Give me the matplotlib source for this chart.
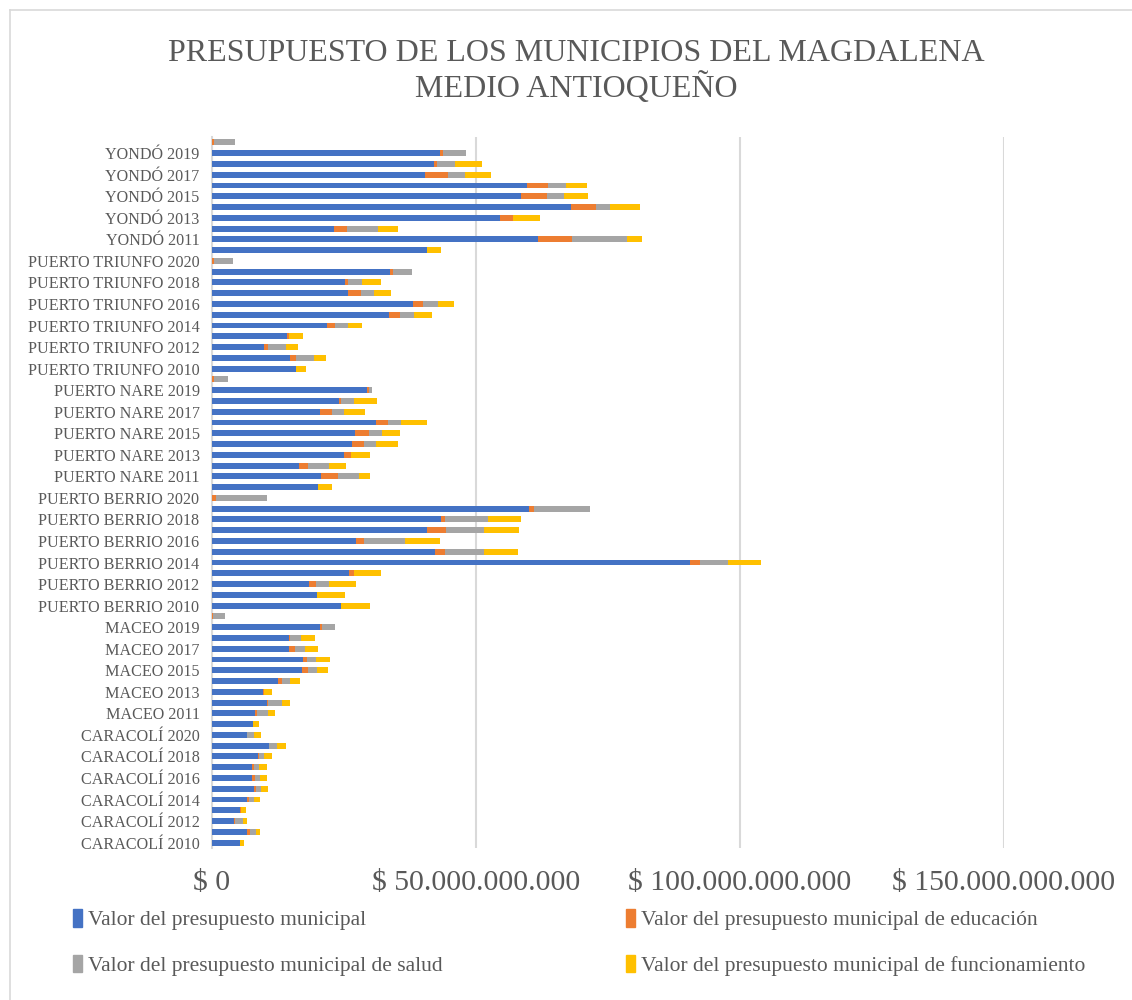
import matplotlib.pyplot as plt
from matplotlib.patches import Patch
from matplotlib.ticker import FuncFormatter, MultipleLocator

plt.rcParams['font.family'] = ['Liberation Serif', 'DejaVu Serif']

# categorias: municipio + año (de abajo hacia arriba)
municipios = ["CARACOLÍ", "MACEO", "PUERTO BERRIO", "PUERTO NARE", "PUERTO TRIUNFO", "YONDÓ"]
anios = list(range(2010, 2021))
categorias = [f"{m} {a}" for m in municipios for a in anios]

# valores en miles de millones de pesos, 2010..2020 por municipio
presupuesto = [
    5.25, 6.7, 4.1, 5.25, 6.57, 7.9, 7.65, 7.52, 8.66, 10.87, 6.57,       # caracoli
    7.7, 8.2, 10.37, 9.6, 12.5, 17.1, 17.2, 14.5, 14.5, 20.5, 0,          # maceo
    24.4, 19.8, 18.3, 26.0, 90.5, 42.2, 27.2, 40.8, 43.3, 60.1, 0,        # puerto berrio
    20.16, 20.6, 16.43, 24.97, 26.5, 27.0, 31.0, 20.4, 24.0, 29.33, 0,    # puerto nare
    15.87, 14.73, 9.92, 14.16, 21.74, 33.44, 38.05, 25.85, 25.1, 33.75, 0,  # puerto triunfo
    40.8, 61.8, 23.2, 54.6, 68.0, 58.5, 59.7, 40.3, 42.0, 43.2, 0,        # yondo
]
educacion = [
    0, 0.44, 0.25, 0.32, 0.38, 0.38, 0.44, 0.5, 0.19, 0, 0.1,
    0, 0.25, 0.25, 0.32, 0.7, 1.07, 0.76, 1.2, 0.32, 0.32, 0.25,
    0, 0, 1.4, 0.91, 1.97, 1.97, 1.54, 3.51, 0.91, 0.91, 0.8,
    0, 3.22, 1.71, 1.39, 2.34, 2.72, 2.28, 2.28, 0.5, 0.44, 0.38,
    0, 1.2, 0.63, 0.5, 1.52, 2.15, 1.9, 2.34, 0.57, 0.5, 0.44,
    0, 6.45, 2.28, 2.47, 4.68, 4.99, 3.92, 4.36, 0.57, 0.5, 0.44,
]
salud = [
    0, 1.14, 1.45, 0, 0.95, 1.01, 1.01, 0.95, 0.95, 1.39, 1.2,
    0, 2.15, 2.72, 0, 1.64, 1.77, 1.83, 1.83, 2.09, 2.47, 2.28,
    0, 0, 2.53, 0, 5.34, 7.3, 7.8, 7.16, 8.08, 10.67, 9.7,
    0, 3.98, 3.98, 0, 2.28, 2.47, 2.47, 2.4, 2.47, 0.44, 2.72,
    0, 3.35, 3.48, 0, 2.59, 2.65, 2.78, 2.47, 2.72, 3.54, 3.6,
    0, 10.37, 5.88, 0, 2.65, 3.16, 3.35, 3.22, 3.54, 4.4, 3.98,
]
funcionamiento = [
    0.82, 0.82, 0.88, 0.88, 1.2, 1.33, 1.33, 1.52, 1.58, 1.7, 1.45,
    1.26, 1.39, 1.45, 1.45, 1.77, 2.09, 2.47, 2.53, 2.65, 0, 0,
    5.55, 5.4, 5.06, 5.13, 6.18, 6.46, 6.67, 6.74, 6.18, 0, 0,
    2.53, 2.09, 3.35, 3.6, 4.05, 3.35, 5.06, 3.98, 4.36, 0, 0,
    2.02, 2.34, 2.21, 2.53, 2.59, 3.35, 3.16, 3.16, 3.54, 0, 0,
    2.53, 2.91, 3.79, 5.12, 5.75, 4.55, 4.05, 4.87, 5.1, 0, 0,
]

series = [
    ("Valor del presupuesto municipal", presupuesto, "#4472C4"),
    ("Valor del presupuesto municipal de educación", educacion, "#ED7D31"),
    ("Valor del presupuesto municipal de salud", salud, "#A5A5A5"),
    ("Valor del presupuesto municipal de funcionamiento", funcionamiento, "#FFC000"),
]

gris = "#595959"
fig = plt.figure(figsize=(11.32, 10), dpi=100)
ax = fig.add_axes([212 / 1132, 1 - 848 / 1000, (1004 - 212) / 1132, (848 - 137) / 1000])

y = list(range(len(categorias)))
izq = [0.0] * len(categorias)
for nombre, vals, color in series:
    pesos = [v * 1e9 for v in vals]
    ax.barh(y, pesos, left=izq, height=0.55, color=color, label=nombre, zorder=3)
    izq = [a + b for a, b in zip(izq, pesos)]

ax.set_ylim(-0.5, len(categorias) - 0.5)
ax.set_xlim(0, 150e9)
ax.set_yticks(y[::2])
ax.set_yticklabels(categorias[::2], fontsize=11.6, color=gris)
ax.xaxis.set_major_locator(MultipleLocator(50e9))
ax.xaxis.set_major_formatter(FuncFormatter(lambda v, p: "$ " + f"{v:,.0f}".replace(",", ".")))
ax.tick_params(axis="x", labelsize=21.4, labelcolor=gris, length=0, pad=16)
ax.tick_params(axis="y", length=0, pad=9)
ax.grid(axis="x", color="#D9D9D9", linewidth=1.5, zorder=0)
for s in ["top", "right", "bottom"]:
    ax.spines[s].set_visible(False)
ax.spines["left"].set_color("#D9D9D9")
ax.spines["left"].set_linewidth(1.5)

fig.text(0.509, 0.961, "PRESUPUESTO DE LOS MUNICIPIOS DEL MAGDALENA\nMEDIO ANTIOQUEÑO",
         ha="center", va="top", fontsize=23, color=gris, linespacing=1.15)

# leyenda en 2 columnas, llenado por filas
handles = [Patch(color=c, label=n) for n, _, c in series]
handles = [handles[0], handles[2], handles[1], handles[3]]
fig.legend(handles=handles, ncol=2, loc="upper left", bbox_to_anchor=(54 / 1132, 1 - 890 / 1000),
           frameon=False, fontsize=15.5, labelcolor=gris, handlelength=0.4, handleheight=0.85,
           handletextpad=0.3, columnspacing=8.5, labelspacing=1.15)

# borde del area del grafico
fig.add_artist(plt.Line2D([10 / 1132, 10 / 1132], [0, 1 - 10 / 1000], color="#D9D9D9", lw=1.2))
fig.add_artist(plt.Line2D([10 / 1132, 1], [1 - 10 / 1000, 1 - 10 / 1000], color="#D9D9D9", lw=1.2))

fig.savefig("out.png", dpi=100)
